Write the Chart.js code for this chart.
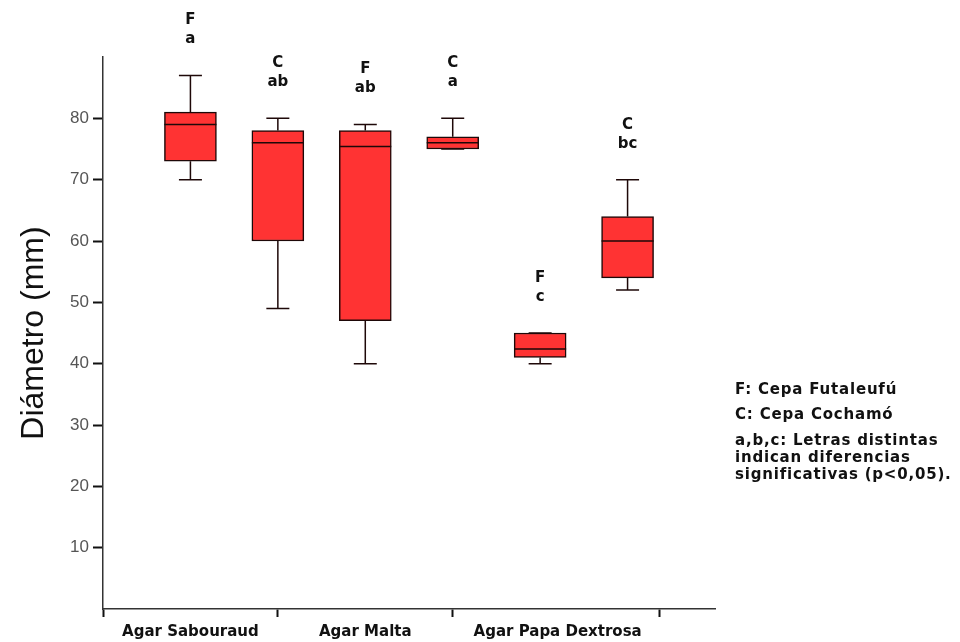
<!DOCTYPE html>
<html>
<head>
<meta charset="utf-8">
<script src="https://cdn.jsdelivr.net/npm/chart.js@4"></script>
<style>
  body{ margin:0; background:#fff; }
  #wrap{ position:relative; width:960px; height:642px; }
  #chart{ position:absolute; left:0; top:0; }
  .note{ position:absolute; left:735px; font:bold 15px "DejaVu Sans", sans-serif; letter-spacing:0.8px; color:#111; line-height:16px; white-space:nowrap; }
</style>
</head>
<body>
<div id="wrap">
  <canvas id="chart" width="960" height="642"></canvas>
  <div class="note" style="top:381px">F: Cepa Futaleufú</div>
  <div class="note" style="top:406px">C: Cepa Cochamó</div>
  <div class="note" style="top:432px;line-height:17px">a,b,c: Letras distintas<br>indican diferencias<br>significativas (p&lt;0,05).</div>
</div>
<script>
// group labels and boundaries on the x axis (linear scale, one unit per box)
const groups = ['Agar Sabouraud', 'Agar Malta', 'Agar Papa Dextrosa'];
const groupLabelAt = [1, 3, 5.2];
const groupEdges = [0, 2, 4, 6.37];

// one entry per box
const boxX = [1, 2, 3, 4, 5, 6];
const strain = ['F', 'C', 'F', 'C', 'F', 'C'];
const letters = ['a', 'ab', 'ab', 'a', 'c', 'bc'];
const whiskerLow = [70, 49, 40, 75, 40, 52];
const q1 = [73, 60, 47, 75, 41, 54];
const median = [79, 76, 75.4, 76, 42.4, 60];
const q3 = [81, 78, 78, 77, 45, 64];
const whiskerHigh = [87, 80, 79, 80, 45, 70];

const yTicks = [10, 20, 30, 40, 50, 60, 70, 80];

const dark = '#1e0808';

const whiskers = {
  id: 'whiskers',
  afterDatasetsDraw(chart){
    const {ctx, scales:{x, y}} = chart;
    const meta = chart.getDatasetMeta(0);
    ctx.save();
    ctx.strokeStyle = dark;
    ctx.lineWidth = 1.5;
    boxX.forEach((bx, i)=>{
      const cx = x.getPixelForValue(bx);
      const bar = meta.data[i];
      const half = bar.width / 2;
      const cap = 11.5;
      ctx.beginPath();
      // upper whisker
      if(whiskerHigh[i] > q3[i]){
        ctx.moveTo(cx, y.getPixelForValue(q3[i]));
        ctx.lineTo(cx, y.getPixelForValue(whiskerHigh[i]));
      }
      ctx.moveTo(cx - cap, y.getPixelForValue(whiskerHigh[i]));
      ctx.lineTo(cx + cap, y.getPixelForValue(whiskerHigh[i]));
      // lower whisker
      if(whiskerLow[i] < q1[i]){
        ctx.moveTo(cx, y.getPixelForValue(q1[i]));
        ctx.lineTo(cx, y.getPixelForValue(whiskerLow[i]));
      }
      ctx.moveTo(cx - cap, y.getPixelForValue(whiskerLow[i]));
      ctx.lineTo(cx + cap, y.getPixelForValue(whiskerLow[i]));
      // median
      ctx.moveTo(cx - half, y.getPixelForValue(median[i]));
      ctx.lineTo(cx + half, y.getPixelForValue(median[i]));
      ctx.stroke();

      // strain + significance letters
      const top = y.getPixelForValue(whiskerHigh[i]);
      ctx.fillStyle = '#111';
      ctx.font = 'bold 15px "DejaVu Sans", sans-serif';
      ctx.textAlign = 'center';
      ctx.textBaseline = 'middle';
      ctx.fillText(strain[i], cx, top - 55);
      ctx.fillText(letters[i], cx, top - 36);
    });
    ctx.restore();
  }
};

new Chart(document.getElementById('chart'), {
  type: 'bar',
  data: {
    datasets: [{
      data: boxX.map((bx, i)=>({x: bx, y: [q1[i], q3[i]]})),
      backgroundColor: '#ff3333',
      borderColor: dark,
      borderWidth: 1.5,
      borderSkipped: false,
      barThickness: 52
    }]
  },
  options: {
    responsive: false,
    animation: false,
    layout: { padding: { top: 57, right: 245, left: 0, bottom: 0 } },
    plugins: { legend: { display: false }, tooltip: { enabled: false } },
    scales: {
      x: {
        type: 'linear',
        offset: false,
        min: 0, max: 7,
        afterBuildTicks: s => { s.ticks = [...groupEdges, ...groupLabelAt].sort((a,b)=>a-b).map(v=>({value:v})); },
        afterFit: s => { s.height = 33; },
        border: { color: '#333', width: 1.5 },
        grid: {
          offset: false,
          drawOnChartArea: false, drawTicks: true, tickLength: 8, tickWidth: 2,
          tickColor: c => groupEdges.includes(c.tick && c.tick.value) ? '#111' : 'rgba(0,0,0,0)'
        },
        ticks: {
          autoSkip: false, maxRotation: 0, padding: 6, color: '#111',
          font: { family: '"DejaVu Sans", sans-serif', size: 15, weight: 'bold' },
          callback: v => { const k = groupLabelAt.indexOf(v); return k >= 0 ? groups[k] : ''; }
        }
      },
      y: {
        min: 0, max: 90,
        afterBuildTicks: s => { s.ticks = yTicks.map(v=>({value:v})); },
        afterFit: s => { s.width = 103; },
        border: { color: '#333', width: 1.5 },
        grid: { drawOnChartArea: false, drawTicks: true, tickLength: 10, tickWidth: 2, tickColor: '#111' },
        ticks: { padding: 4, color: '#555', font: { family: '"Liberation Sans", Arial, sans-serif', size: 17 } },
        title: {
          display: true, text: 'Diámetro (mm)', color: '#111',
          font: { family: '"Liberation Sans", Arial, sans-serif', size: 32 },
          padding: { top: 15, bottom: 0 }
        }
      }
    }
  },
  plugins: [whiskers]
});
</script>
</body>
</html>
